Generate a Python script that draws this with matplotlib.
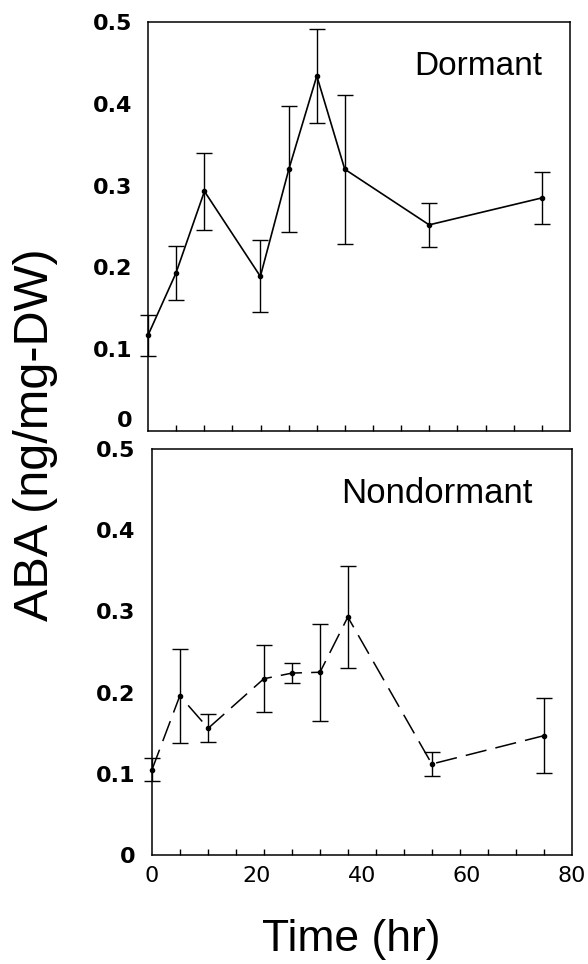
import matplotlib.pyplot as plt
import matplotlib.transforms as mtransforms
import numpy as np

plt.rcParams['font.family'] = ['Liberation Sans', 'DejaVu Sans']

# sampling times (hr)
time_hr = [0, 5.3, 10.7, 21.3, 26.7, 32, 37.3, 53.3, 74.7]

# ABA (ng/mg-DW), dormant seeds
dormant = [0.117, 0.193, 0.293, 0.189, 0.320, 0.434, 0.320, 0.252, 0.285]
dormant_err = [0.025, 0.033, 0.047, 0.044, 0.077, 0.057, 0.091, 0.027, 0.032]

# ABA (ng/mg-DW), nondormant seeds
nondormant = [0.105, 0.196, 0.156, 0.217, 0.224, 0.225, 0.293, 0.112, 0.147]
nondormant_err = [0.014, 0.058, 0.017, 0.041, 0.012, 0.060, 0.063, 0.015, 0.046]

y_ticks = [0, 0.1, 0.2, 0.3, 0.4, 0.5]
y_labels = ['0', '0.1', '0.2', '0.3', '0.4', '0.5']
x_major = [0, 20, 40, 60, 80]
x_labels = ['0', '20', '40', '60', '80']

fig = plt.figure(figsize=(5.88, 9.64), dpi=100)
ax1 = fig.add_axes([0.2517, 0.5529, 0.7177, 0.4243])
ax2 = fig.add_axes([0.2585, 0.1131, 0.7143, 0.4212])


def style(ax, show_x, ypad):
    ax.set_xlim(0, 80)
    ax.set_ylim(0, 0.5)
    ax.set_yticks(y_ticks)
    ax.set_yticklabels(y_labels, fontsize=16, fontweight='bold',
                       family='DejaVu Sans')
    ax.tick_params(axis='y', length=0, pad=ypad)
    ax.set_xticks(x_major)
    ax.set_xticks(np.linspace(0, 80, 16), minor=True)
    ax.tick_params(axis='x', which='minor', direction='in', length=4, width=1)
    ax.tick_params(axis='x', which='major', length=0, pad=8)
    if show_x:
        ax.set_xticklabels(x_labels, fontsize=16, family='DejaVu Sans')
    else:
        ax.set_xticklabels([])
    for s in ax.spines.values():
        s.set_linewidth(1.1)


ax1.errorbar(time_hr, dormant, yerr=dormant_err, color='black', lw=1.2,
             marker='o', ms=3, capsize=5.5, elinewidth=1, capthick=1,
             clip_on=False)
line2 = ax2.errorbar(time_hr, nondormant, yerr=nondormant_err, color='black',
                     lw=1.1, marker='o', ms=3, capsize=5.5, elinewidth=1,
                     capthick=1, clip_on=False, linestyle='--')
line2[0].set_dashes((14, 6))

style(ax1, False, 11)
style(ax2, True, 12)

# the "0" of the upper panel sits a little above the axis in the original
lab0 = ax1.get_yticklabels()[0]
lab0.set_transform(lab0.get_transform() +
                   mtransforms.ScaledTranslation(0, 0.12, fig.dpi_scale_trans))

ax1.text(0.934, 0.89, 'Dormant', transform=ax1.transAxes, ha='right',
         va='center', fontsize=24)
ax2.text(0.907, 0.89, 'Nondormant', transform=ax2.transAxes, ha='right',
         va='center', fontsize=25)

fig.text(0.061, 0.549, 'ABA (ng/mg-DW)', rotation=90, ha='center',
         va='center', fontsize=35)
fig.text(0.598, 0.025, 'Time (hr)', ha='center', va='center', fontsize=32)

fig.savefig('out.png', dpi=100)
